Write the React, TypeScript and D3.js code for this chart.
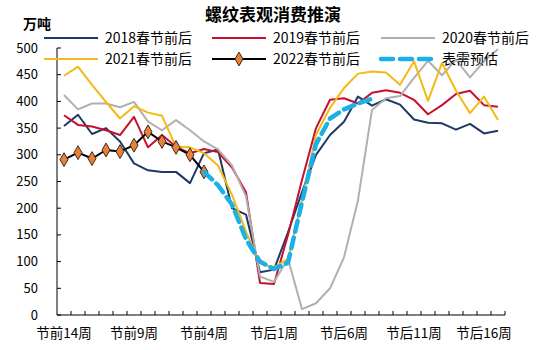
import React from "react";
import * as d3 from "d3";

// 横轴：节前14周 ... 春节当周 ... 节后17周
const weeks: string[] = [
  ...d3.range(14, 0, -1).map((n) => `节前${n}周`),
  "春节当周",
  ...d3.range(1, 18).map((n) => `节后${n}周`),
];
const shownLabels = ["节前14周", "节前9周", "节前4周", "节后1周", "节后6周", "节后11周", "节后16周"];
const yTicks = [0, 50, 100, 150, 200, 250, 300, 350, 400, 450, 500];

const y2018 = [354, 375, 339, 350, 325, 284, 271, 268, 268, 247, 303, 310, 200, 188, 80, 85,
  155, 230, 300, 337, 362, 409, 392, 404, 394, 366, 360, 359, 347, 358, 340, 345];
const y2019 = [374, 356, 353, 346, 337, 371, 314, 337, 315, 303, 311, 305, 276, 230, 60, 58,
  150, 253, 350, 403, 406, 396, 416, 421, 416, 403, 376, 393, 414, 420, 393, 390];
const y2020 = [412, 385, 396, 396, 389, 399, 362, 346, 365, 346, 325, 310, 280, 222, 72, 62,
  105, 11, 22, 50, 108, 215, 384, 406, 410, 444, 476, 449, 478, 445, 475, 498];
const y2021 = [448, 465, 431, 399, 368, 391, 379, 373, 315, 314, 303, 280, 225, 156, 97, 89,
  105, 215, 337, 388, 425, 452, 456, 454, 431, 475, 401, 472, 420, 378, 409, 365];
const y2022 = [291, 304, 293, 309, 306, 318, 343, 325, 314, 300, 268];
// 表需预估 从节前4周开始
const estStart = 10;
const yEst = [268, 243, 207, 142, 100, 86, 98, 212, 320, 368, 385, 396, 405];

const series = [
  { name: "2018春节前后", values: y2018, color: "#1f3864", width: 2 },
  { name: "2019春节前后", values: y2019, color: "#c8102e", width: 2 },
  { name: "2020春节前后", values: y2020, color: "#b0b0b0", width: 2 },
  { name: "2021春节前后", values: y2021, color: "#f5b914", width: 2 },
  { name: "2022春节前后", values: y2022, color: "#000000", width: 2, marker: true },
];

const font = "'Noto Sans CJK SC', 'Noto Sans', sans-serif";

export default function App() {
  const W = 550;
  const H = 350;
  const x = d3.scaleBand<string>().domain(weeks).range([57, 505]).padding(0);
  const y = d3.scaleLinear().domain([0, 500]).range([315, 48]);
  const cx = (i: number) => (x(weeks[i]) as number) + x.bandwidth() / 2;

  const line = d3
    .line<[number, number]>()
    .x((d) => cx(d[0]))
    .y((d) => y(d[1]));

  const estPts: [number, number][] = yEst.map((v, i) => [estStart + i, v]);

  const legendItems = [
    ...series.map((s) => ({ ...s, dashed: false })),
    { name: "表需预估", color: "#1ab0e8", width: 4, dashed: true, marker: false },
  ];
  const legendX = [44, 212, 381];
  const legendY = [38, 59];
  const diamond = d3.symbol().type(d3.symbolDiamond).size(55);

  return (
    <svg width={W} height={H} style={{ display: "block", position: "absolute", left: 0, top: 0 }}>
      <rect width={W} height={H} fill="#fff" />
      <text x={273} y={21} textAnchor="middle" fontFamily={font} fontWeight="bold" fontSize={17} fill="#000">
        螺纹表观消费推演
      </text>
      <text x={37} y={29} textAnchor="middle" fontFamily={font} fontWeight="bold" fontSize={14} fill="#000">
        万吨
      </text>

      {/* y axis */}
      <line x1={57} x2={57} y1={y(500)} y2={y(0)} stroke="#000" strokeWidth={1} />
      {yTicks.map((t) => (
        <g key={t}>
          <line x1={57} x2={61} y1={y(t)} y2={y(t)} stroke="#000" />
          <text x={38} y={y(t)} dy="0.35em" textAnchor="end" fontFamily={font} fontSize={13} fill="#000">
            {t}
          </text>
        </g>
      ))}

      {/* x axis */}
      <line x1={57} x2={505} y1={y(0)} y2={y(0)} stroke="#000" strokeWidth={1} />
      {weeks.map((w, i) => (
        <line key={w} x1={(x(w) as number) + x.bandwidth()} x2={(x(w) as number) + x.bandwidth()}
          y1={y(0)} y2={y(0) - 4} stroke="#000" />
      ))}
      {shownLabels.map((w) => (
        <text key={w} x={(x(w) as number) + x.bandwidth() / 2} y={333} dy="0.35em" textAnchor="middle"
          fontFamily={font} fontSize={13.5} fill="#000">
          {w}
        </text>
      ))}

      {/* series */}
      {series.map((s) => (
        <path key={s.name} d={line(s.values.map((v, i) => [i, v] as [number, number])) || ""}
          fill="none" stroke={s.color} strokeWidth={s.width} strokeLinejoin="round" />
      ))}
      {y2022.map((v, i) => (
        <path key={i} d={diamond() || ""} transform={`translate(${cx(i)},${y(v)})`}
          fill="#e8823a" stroke="#3b2a1c" strokeWidth={1} />
      ))}
      <path d={line(estPts) || ""} fill="none" stroke="#1ab0e8" strokeWidth={4.5}
        strokeDasharray="11 6" strokeLinecap="round" strokeLinejoin="round" />

      {/* legend */}
      {legendItems.map((it, k) => {
        const lx = legendX[k % 3];
        const ly = legendY[Math.floor(k / 3)];
        return (
          <g key={it.name}>
            <line x1={lx} x2={lx + 54} y1={ly} y2={ly} stroke={it.color}
              strokeWidth={it.dashed ? 4.5 : 2} strokeDasharray={it.dashed ? "12 7" : undefined}
              strokeLinecap={it.dashed ? "round" : "butt"} />
            {it.marker && (
              <path d={diamond() || ""} transform={`translate(${lx + 27},${ly})`}
                fill="#e8823a" stroke="#3b2a1c" strokeWidth={1} />
            )}
            <text x={lx + 61} y={ly} dy="0.35em" fontFamily={font} fontSize={14} fill="#000">
              {it.name}
            </text>
          </g>
        );
      })}
    </svg>
  );
}
